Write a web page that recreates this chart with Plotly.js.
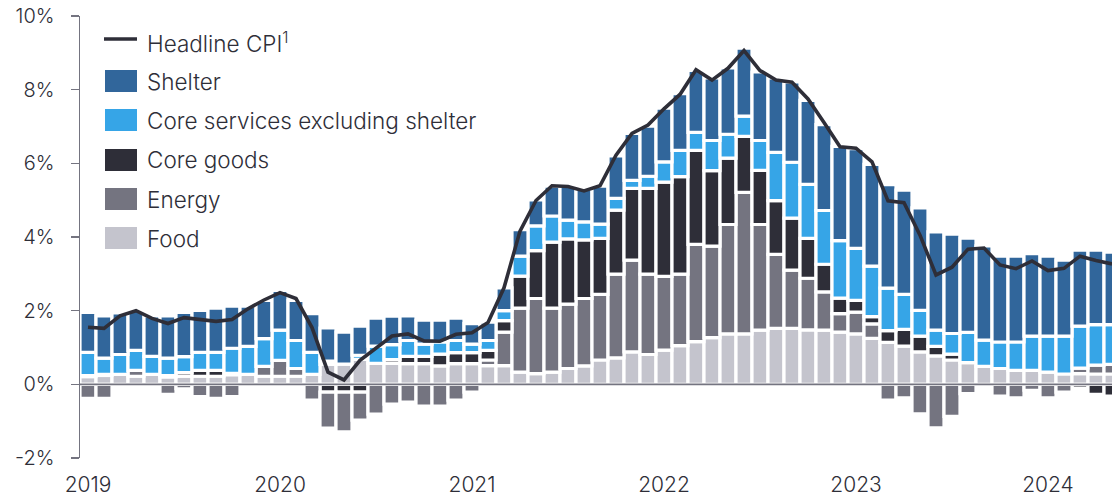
<!DOCTYPE html>
<html><head><meta charset="utf-8">
<script src="https://cdn.plot.ly/plotly-3.0.1.min.js"></script>
<style>html,body{margin:0;padding:0;background:#fff}#chart{width:1112px;height:496px}</style>
</head><body><div id="chart"></div>
<script>
const months = [
"Jan 2019","Feb 2019","Mar 2019","Apr 2019","May 2019","Jun 2019","Jul 2019","Aug 2019","Sep 2019","Oct 2019","Nov 2019","Dec 2019",
"Jan 2020","Feb 2020","Mar 2020","Apr 2020","May 2020","Jun 2020","Jul 2020","Aug 2020","Sep 2020","Oct 2020","Nov 2020","Dec 2020",
"Jan 2021","Feb 2021","Mar 2021","Apr 2021","May 2021","Jun 2021","Jul 2021","Aug 2021","Sep 2021","Oct 2021","Nov 2021","Dec 2021",
"Jan 2022","Feb 2022","Mar 2022","Apr 2022","May 2022","Jun 2022","Jul 2022","Aug 2022","Sep 2022","Oct 2022","Nov 2022","Dec 2022",
"Jan 2023","Feb 2023","Mar 2023","Apr 2023","May 2023","Jun 2023","Jul 2023","Aug 2023","Sep 2023","Oct 2023","Nov 2023","Dec 2023",
"Jan 2024","Feb 2024","Mar 2024","Apr 2024","May 2024"];

const food = [0.21,0.24,0.27,0.22,0.27,0.20,0.22,0.22,0.22,0.26,0.27,0.22,
0.22,0.22,0.27,0.54,0.55,0.68,0.57,0.57,0.56,0.56,0.50,0.56,
0.56,0.51,0.51,0.33,0.29,0.33,0.43,0.50,0.66,0.72,0.88,0.81,
0.93,1.05,1.16,1.27,1.37,1.37,1.47,1.52,1.52,1.48,1.47,1.42,
1.37,1.25,1.14,1.04,0.88,0.77,0.66,0.59,0.49,0.43,0.38,0.38,
0.33,0.28,0.29,0.28,0.28];

const energy = [-0.38,-0.38,0.00,0.16,0.00,-0.27,-0.12,-0.33,-0.38,-0.33,0.00,0.27,
0.43,0.21,-0.43,-0.98,-1.08,-0.76,-0.81,-0.54,-0.48,-0.59,-0.59,-0.43,
-0.21,0.15,0.91,1.74,2.04,1.74,1.75,1.83,1.78,2.27,2.49,2.18,
2.00,1.94,2.64,2.48,2.97,3.84,2.87,2.01,1.58,1.40,1.04,0.50,
0.59,0.39,-0.43,-0.37,-0.80,-1.18,-0.87,-0.25,0.00,-0.32,-0.37,-0.16,
-0.37,-0.21,0.15,0.24,0.26];

const coreGoods = [0.03,0.03,0.00,0.00,0.00,0.04,0.10,0.16,0.16,0.04,0.00,0.00,
0.00,0.00,0.00,-0.21,-0.21,-0.21,0.00,0.10,0.20,0.20,0.32,0.30,
0.30,0.26,0.31,0.87,1.30,1.79,1.77,1.59,1.52,1.74,1.95,2.33,
2.56,2.65,2.55,2.05,1.80,1.52,1.47,1.46,1.41,1.08,0.75,0.42,
0.32,0.20,0.32,0.45,0.43,0.26,0.16,0.00,0.00,0.00,0.00,0.00,
0.00,0.00,-0.10,-0.27,-0.32];

const coreServices = [0.63,0.44,0.54,0.54,0.49,0.47,0.43,0.49,0.49,0.68,0.76,0.75,
0.82,0.76,0.60,0.09,0.00,0.11,0.47,0.41,0.43,0.33,0.33,0.33,
0.23,0.27,0.27,0.54,0.67,0.71,0.51,0.49,0.39,0.32,0.22,0.33,
0.55,0.71,0.49,0.82,0.65,0.55,0.81,1.31,1.52,1.47,1.46,1.56,
1.41,1.37,1.15,0.95,0.70,0.44,0.56,0.82,0.71,0.72,0.77,0.93,
0.98,1.03,1.14,1.10,1.08];

const shelter = [1.08,1.15,1.13,1.09,1.10,1.15,1.20,1.14,1.20,1.14,1.09,1.04,
1.08,1.09,1.05,0.90,0.87,0.79,0.76,0.77,0.67,0.65,0.59,0.61,
0.56,0.50,0.62,0.72,0.71,0.81,0.92,0.88,1.03,1.15,1.27,1.36,
1.46,1.54,1.68,1.70,1.80,1.85,1.86,2.02,2.18,2.28,2.33,2.56,
2.71,2.76,2.81,2.83,2.78,2.67,2.70,2.56,2.56,2.33,2.33,2.24,
2.17,2.06,2.06,2.02,1.97];

const headline = [1.55,1.52,1.86,2.00,1.79,1.65,1.81,1.75,1.71,1.76,2.05,2.29,
2.49,2.33,1.54,0.33,0.12,0.65,0.99,1.31,1.37,1.18,1.17,1.36,
1.40,1.68,2.62,4.16,4.99,5.39,5.37,5.25,5.39,6.22,6.81,7.04,
7.48,7.87,8.54,8.26,8.58,9.06,8.52,8.26,8.20,7.75,7.11,6.45,
6.41,6.04,4.98,4.93,4.05,2.97,3.18,3.67,3.70,3.24,3.14,3.35,
3.09,3.15,3.48,3.36,3.27];

const yearTickVals = ["Jan 2019","Jan 2020","Jan 2021","Jan 2022","Jan 2023","Jan 2024"];
const yearTickText = ["2019","2020","2021","2022","2023","2024"];
const yTickVals = [-2,0,2,4,6,8,10];
const yTickText = ["-2%","0%","2%","4%","6%","8%","10%"];

const seriesNames = ["Headline CPI<sup>1</sup>","Shelter","Core services excluding shelter","Core goods","Energy","Food"];
const colors = {line:"#2e2e38", shelter:"#31669b", services:"#36a5e7", goods:"#2e2e38", energy:"#747480", food:"#c4c4cd"};

const FONT = "Inter, 'Open Sans', sans-serif";
const pos = a => a.map(v => v > 0 ? v : null);
const neg = a => a.map(v => v < 0 ? v : null);
const barLine = {color:"#ffffff", width:3.2};
function bar(name, y, color){
  return {type:"bar", name:name, x:months, y:y, marker:{color:color, line:barLine}, showlegend:false, hoverinfo:"x+y+name"};
}
const traces = [
  bar("Food", pos(food), colors.food),
  bar("Energy", pos(energy), colors.energy),
  bar("Core goods", pos(coreGoods), colors.goods),
  bar("Core services excluding shelter", pos(coreServices), colors.services),
  bar("Shelter", pos(shelter), colors.shelter),
  bar("Food", neg(food), colors.food),
  bar("Core goods", neg(coreGoods), colors.goods),
  bar("Energy", neg(energy), colors.energy),
  bar("Core services excluding shelter", neg(coreServices), colors.services),
  {type:"scatter", mode:"lines", name:"Headline CPI", x:months, y:headline,
   line:{color:colors.line, width:3.6}, showlegend:false}
];

// custom legend (page pixels -> paper coords)
const L = 80, R = 1112, T = 16, B = 458;
const px = p => (p - L) / (R - L);
const py = p => (B - p) / (B - T);
const legendColors = [colors.line, colors.shelter, colors.services, colors.goods, colors.energy, colors.food];
const rowY = [42, 81, 120, 160, 199, 238];
const shapes = [
  {type:"line", xref:"paper", yref:"y", x0:0, x1:1, y0:0, y1:0, layer:"above", line:{color:"#747480", width:1.6}}
];
const annotations = [];
seriesNames.forEach((n, k) => {
  if (k === 0) {
    shapes.push({type:"line", xref:"paper", yref:"paper", x0:px(104), x1:px(137), y0:py(rowY[k]-3), y1:py(rowY[k]-3), line:{color:legendColors[k], width:3.6}});
  } else {
    shapes.push({type:"rect", xref:"paper", yref:"paper", x0:px(105), x1:px(137), y0:py(rowY[k]+11), y1:py(rowY[k]-11), fillcolor:legendColors[k], line:{width:0}});
  }
  annotations.push({xref:"paper", yref:"paper", x:px(145), y:py(rowY[k]), xanchor:"left", yanchor:"middle", showarrow:false, text:n,
    font:{family:FONT, size:22.5, weight:300, color:"#2e2e38"}});
});

const layout = {
  width:1112, height:496,
  margin:{l:L, r:1112-R, t:T, b:496-B, pad:0},
  paper_bgcolor:"#ffffff", plot_bgcolor:"#ffffff",
  barmode:"relative", bargap:0,
  showlegend:false,
  font:{family:FONT, color:"#2e2e38", size:20, weight:300},
  xaxis:{type:"category", categoryorder:"array", categoryarray:months, range:[-0.5, 64],
    tickvals:yearTickVals, ticktext:yearTickText, ticks:"", showgrid:false, zeroline:false, showline:false,
    tickfont:{family:FONT, size:21, weight:300, color:"#2e2e38"}, ticklabelstandoff:12},
  yaxis:{range:[-2,10], tickvals:yTickVals, ticktext:yTickText, showgrid:false, zeroline:false,
    showline:true, linecolor:"#747480", linewidth:1.5, ticks:"outside", ticklen:8, tickwidth:1.5, tickcolor:"#747480",
    tickfont:{family:FONT, size:20, weight:300, color:"#2e2e38"}, ticklabelstandoff:12},
  shapes:shapes, annotations:annotations
};
Plotly.newPlot("chart", traces, layout, {displayModeBar:false, staticPlot:true});
</script></body></html>
